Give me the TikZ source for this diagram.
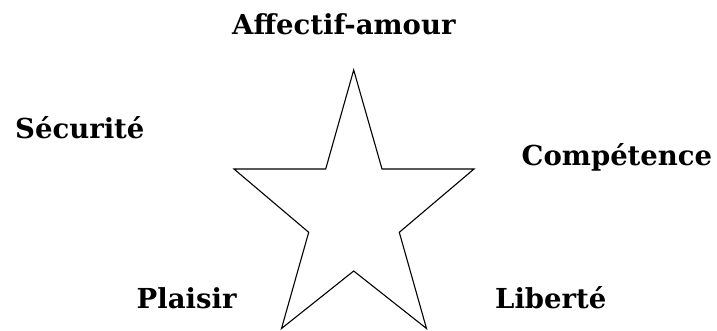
\documentclass[tikz,border=0pt]{standalone}
\usepackage{fontspec}
\setmainfont{DejaVu Serif}
\begin{document}
\begin{tikzpicture}[x=1pt,y=-1pt,
  lbl/.style={anchor=base west,inner sep=0pt,font=\fontsize{27.5}{30}\selectfont\bfseries}]
\useasboundingbox[fill=white] (0,0) rectangle (717,330);
\draw[line width=1.1pt,line join=miter]
  (353.7,70) -- (382,169) -- (474,169) -- (399.3,232.3) -- (426.5,328.5)
  -- (353.7,271) -- (281.5,328.5) -- (308.7,232.3) -- (234,169) -- (325.7,169) -- cycle;
\node[lbl] (aff) at (232,34) {Affectif-amour};
\node[lbl] (sec) at (15,138.5) {Sécurité};
\node[lbl] (comp) at (521.5,165.5) {Compétence};
\node[lbl] (pla) at (136.5,308) {Plaisir};
\node[lbl] (lib) at (495,308) {Liberté};
\end{tikzpicture}
\end{document}
